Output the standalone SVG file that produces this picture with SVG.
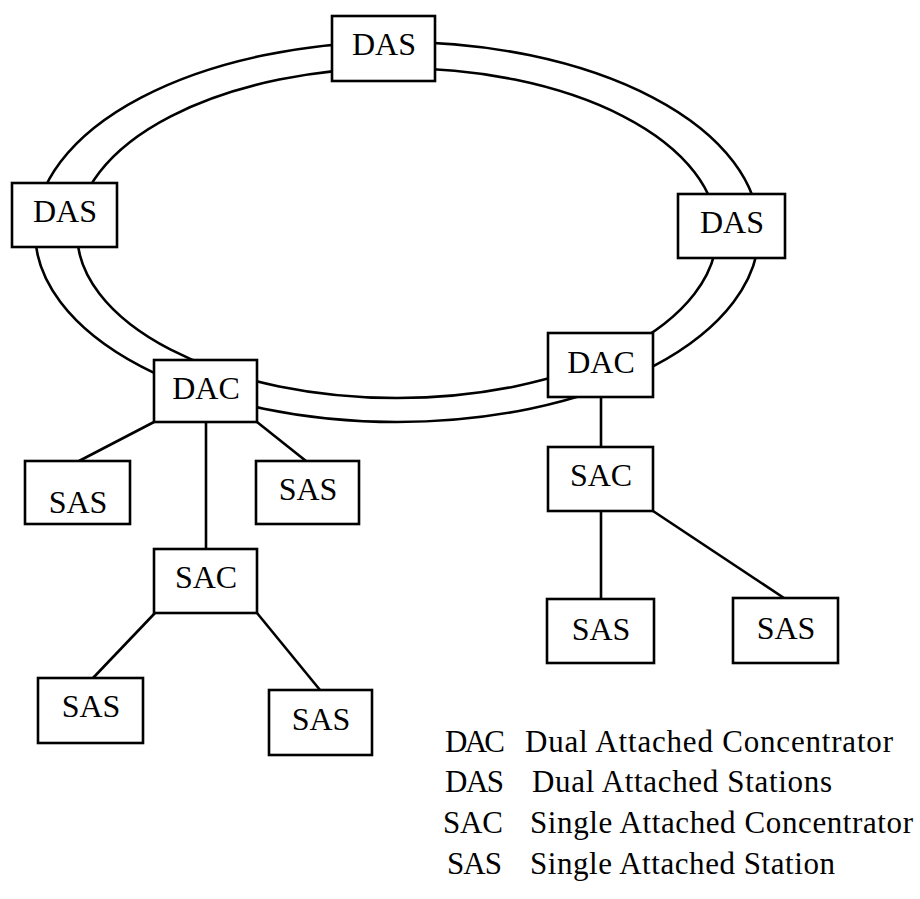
<svg xmlns="http://www.w3.org/2000/svg" width="920" height="899" viewBox="0 0 920 899">
<style>
.box{fill:#fff;stroke:#000;stroke-width:2.6}
.ln{fill:none;stroke:#000;stroke-width:2.6}
.lbl{font-family:"Liberation Serif","Times New Roman",serif;font-size:32px;fill:#000;text-anchor:middle}
.leg{font-family:"Liberation Serif","Times New Roman",serif;font-size:31px;fill:#000}
</style>
<rect x="0" y="0" width="920" height="899" fill="#fff"/>
<g id="ring">
<ellipse class="ln" cx="397" cy="232" rx="362" ry="190"/>
<ellipse class="ln" cx="397" cy="233" rx="320" ry="165"/>
</g>
<g id="connectors">
<line class="ln" x1="154" y1="422" x2="79" y2="461"/>
<line class="ln" x1="257" y1="422" x2="306" y2="461"/>
<line class="ln" x1="206" y1="422" x2="206" y2="549"/>
<line class="ln" x1="155" y1="613" x2="93" y2="678"/>
<line class="ln" x1="257" y1="613" x2="320" y2="690"/>
<line class="ln" x1="601" y1="397" x2="601" y2="447"/>
<line class="ln" x1="601" y1="511" x2="601" y2="599"/>
<line class="ln" x1="653" y1="511" x2="784" y2="598"/>
</g>
<g id="das-top"><rect class="box" x="332" y="16" width="103" height="65"/><text class="lbl" x="384" y="55">DAS</text></g>
<g id="das-left"><rect class="box" x="12" y="183" width="105" height="64"/><text class="lbl" x="65" y="222">DAS</text></g>
<g id="das-right"><rect class="box" x="678" y="194" width="107" height="64"/><text class="lbl" x="732" y="233">DAS</text></g>
<g id="dac-left"><rect class="box" x="154" y="360" width="103" height="62"/><text class="lbl" x="206" y="399">DAC</text></g>
<g id="dac-right"><rect class="box" x="548" y="333" width="105" height="64"/><text class="lbl" x="601" y="373">DAC</text></g>
<g id="sac-right"><rect class="box" x="548" y="447" width="105" height="64"/><text class="lbl" x="601" y="486">SAC</text></g>
<g id="sas-l1"><rect class="box" x="25" y="461" width="105" height="63"/><text class="lbl" x="78" y="513">SAS</text></g>
<g id="sas-l2"><rect class="box" x="256" y="461" width="103" height="63"/><text class="lbl" x="308" y="500">SAS</text></g>
<g id="sac-left"><rect class="box" x="154" y="549" width="103" height="64"/><text class="lbl" x="206" y="588">SAC</text></g>
<g id="sas-b1"><rect class="box" x="38" y="678" width="105" height="65"/><text class="lbl" x="91" y="717">SAS</text></g>
<g id="sas-b2"><rect class="box" x="269" y="690" width="103" height="65"/><text class="lbl" x="321" y="730">SAS</text></g>
<g id="sas-r1"><rect class="box" x="547" y="599" width="107" height="64"/><text class="lbl" x="601" y="640">SAS</text></g>
<g id="sas-r2"><rect class="box" x="733" y="598" width="105" height="65"/><text class="lbl" x="786" y="639">SAS</text></g>
<g id="legend">
<text class="leg" x="445" y="752" textLength="60" lengthAdjust="spacing">DAC</text>
<text class="leg" x="525" y="752" textLength="368" lengthAdjust="spacing">Dual Attached Concentrator</text>
<text class="leg" x="445" y="792" textLength="59" lengthAdjust="spacing">DAS</text>
<text class="leg" x="532" y="792" textLength="300" lengthAdjust="spacing">Dual Attached Stations</text>
<text class="leg" x="443" y="833" textLength="60" lengthAdjust="spacing">SAC</text>
<text class="leg" x="530" y="833" textLength="383" lengthAdjust="spacing">Single Attached Concentrator</text>
<text class="leg" x="447" y="874" textLength="55" lengthAdjust="spacing">SAS</text>
<text class="leg" x="530" y="874" textLength="305" lengthAdjust="spacing">Single Attached Station</text>
</g>
</svg>
